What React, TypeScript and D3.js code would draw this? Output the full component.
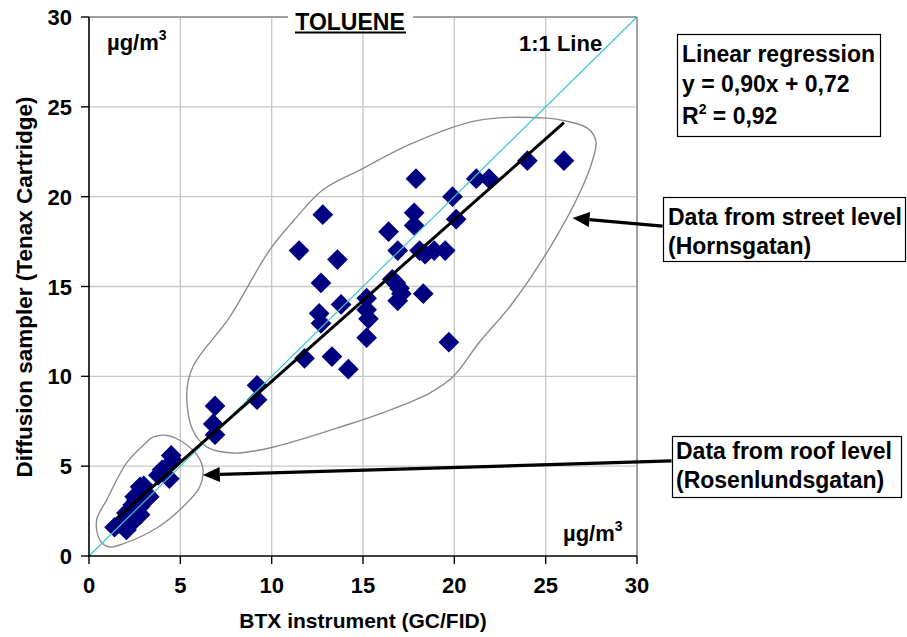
import React from "react";
import * as d3 from "d3";

// BTX instrument (x) vs diffusion sampler (y), toluene, µg/m³
const streetLevel: [number, number][] = [
  [26.0, 22.0], [24.0, 22.0], [21.9, 21.0], [21.2, 21.0], [19.9, 20.0], [20.1, 18.75],
  [17.9, 21.0], [17.8, 19.1], [17.8, 18.4], [16.4, 18.05], [12.8, 19.0], [11.5, 17.0],
  [13.6, 16.5], [16.9, 17.0], [18.1, 17.0], [18.4, 16.8], [18.9, 17.0], [19.5, 17.0],
  [18.3, 14.6], [12.7, 15.2], [13.8, 14.0], [12.6, 13.5], [12.7, 12.95], [15.2, 14.35],
  [15.2, 13.7], [15.3, 13.2], [15.2, 12.15], [16.6, 15.4], [16.8, 15.2], [17.0, 14.9],
  [17.1, 14.6], [16.9, 14.2], [13.3, 11.1], [11.8, 11.0], [14.2, 10.4], [19.7, 11.9],
  [9.2, 9.5], [9.2, 8.7], [6.9, 8.35], [6.8, 7.35], [6.9, 6.75],
];

const roofLevel: [number, number][] = [
  [4.5, 5.6], [4.6, 5.3], [4.0, 4.8], [3.8, 4.5], [4.4, 4.3], [3.0, 3.9], [2.8, 3.85],
  [3.1, 3.5], [2.5, 3.3], [3.3, 3.3], [2.6, 3.1], [2.4, 2.85], [2.8, 2.75], [2.05, 2.4],
  [2.8, 2.3], [2.4, 1.9], [1.7, 1.8], [1.4, 1.6], [2.05, 1.45],
];

// Linear regression y = 0,90x + 0,72 (R² = 0,92)
const slope = 0.9;
const intercept = 0.72;
const regressionRange: [number, number] = [1.5, 26];

const xTicks = [0, 5, 10, 15, 20, 25, 30];
const yTicks = [0, 5, 10, 15, 20, 25, 30];

// Hand-drawn outlines around the two groups, in data units
const streetOutline: [number, number][] = [
  [5.35, 9.0], [5.68, 7.01], [6.44, 6.07], [7.87, 5.73], [9.89, 6.01], [14.1, 7.29],
  [16.62, 8.18], [18.65, 9.07], [19.91, 9.96], [21.38, 11.91], [23.19, 14.08],
  [25.38, 17.42], [26.86, 20.2], [27.57, 22.04], [27.75, 23.1], [27.3, 23.8],
  [26.15, 24.2], [25.05, 24.37], [21.38, 24.26], [17.72, 22.98], [14.82, 21.48],
  [12.79, 20.37], [11.37, 18.86], [9.89, 17.03], [7.7, 13.3], [5.68, 10.52],
];

const roofOutline: [number, number][] = [
  [3.5, 6.62], [4.42, 6.68], [5.68, 5.9], [6.22, 4.95], [6.06, 3.84], [4.96, 2.56],
  [3.71, 1.56], [1.85, 0.67], [1.13, 0.5], [0.59, 0.89], [0.42, 2.0], [0.97, 3.12],
  [2.06, 5.18], [3.16, 6.34],
];

// Arrows from the labels to the groups: [start, tip] in data units
const streetArrow: [number, number][] = [[31.4, 18.36], [26.47, 18.81]];
const roofArrow: [number, number][] = [[31.89, 5.29], [6.23, 4.51]];

const FONT = "'Liberation Sans', Arial, sans-serif";

export default function App() {
  const width = 907;
  const height = 637;
  const x = d3.scaleLinear().domain([0, 30]).range([89, 637]);
  const y = d3.scaleLinear().domain([0, 30]).range([556, 17]);

  const diamond = d3.symbol().type(d3.symbolSquare).size(215)() as string;
  const outline = d3
    .line<[number, number]>()
    .x((d) => x(d[0]))
    .y((d) => y(d[1]))
    .curve(d3.curveCatmullRomClosed.alpha(0.5));

  const arrow = (pts: [number, number][]) => {
    const [s, t] = pts;
    const x1 = x(s[0]), y1 = y(s[1]), x2 = x(t[0]), y2 = y(t[1]);
    const ang = Math.atan2(y2 - y1, x2 - x1);
    const len = 17, hw = 7.5;
    const bx = x2 - len * Math.cos(ang), by = y2 - len * Math.sin(ang);
    const px = -Math.sin(ang) * hw, py = Math.cos(ang) * hw;
    return (
      <g>
        <line x1={x1} y1={y1} x2={bx} y2={by} stroke="#000" strokeWidth={3.2} />
        <path d={`M${x2},${y2}L${bx + px},${by + py}L${bx - px},${by - py}Z`} fill="#000" />
      </g>
    );
  };

  const textStyle = { fontFamily: FONT, fontWeight: 700, fill: "#000" } as const;

  return (
    <div style={{ position: "absolute", left: 0, top: 0 }}>
      <svg width={width} height={height} style={{ display: "block", background: "#fff" }}>
        <rect width={width} height={height} fill="#fff" />
        {/* grid */}
        {xTicks.slice(1).map((t) => (
          <line key={"gx" + t} x1={x(t)} x2={x(t)} y1={y(0)} y2={y(30)} stroke="#c8c8c8" strokeWidth={1.4} />
        ))}
        {yTicks.slice(1).map((t) => (
          <line key={"gy" + t} x1={x(0)} x2={x(30)} y1={y(t)} y2={y(t)} stroke="#c8c8c8" strokeWidth={1.4} />
        ))}
        {/* top and right border */}
        <line x1={x(0)} x2={x(30)} y1={y(30)} y2={y(30)} stroke="#8c8c8c" strokeWidth={1.4} />
        <line x1={x(30)} x2={x(30)} y1={y(30)} y2={y(0)} stroke="#8c8c8c" strokeWidth={1.4} />

        {/* outlines */}
        <path d={outline(streetOutline) ?? ""} fill="none" stroke="#8c8c8c" strokeWidth={1.4} />
        <path d={outline(roofOutline) ?? ""} fill="none" stroke="#8c8c8c" strokeWidth={1.4} />

        {/* data points */}
        {[...streetLevel, ...roofLevel].map((d, i) => (
          <path
            key={"p" + i}
            d={diamond}
            transform={`translate(${x(d[0])},${y(d[1])}) rotate(45)`}
            fill="#000080"
          />
        ))}

        {/* 1:1 line */}
        <line x1={x(0)} y1={y(0)} x2={x(30)} y2={y(30)} stroke="#3cc8c8" strokeWidth={1.2} />
        {/* regression line */}
        <line
          x1={x(regressionRange[0])}
          y1={y(slope * regressionRange[0] + intercept)}
          x2={x(regressionRange[1])}
          y2={y(slope * regressionRange[1] + intercept)}
          stroke="#000"
          strokeWidth={3}
        />

        {/* axes */}
        <line x1={x(0)} x2={x(0)} y1={y(0) + 1} y2={y(30)} stroke="#000" strokeWidth={1.6} />
        <line x1={x(0) - 1} x2={x(30)} y1={y(0)} y2={y(0)} stroke="#000" strokeWidth={1.6} />
        {xTicks.map((t) => (
          <g key={"xt" + t}>
            <line x1={x(t)} x2={x(t)} y1={y(0)} y2={y(0) + 8} stroke="#000" strokeWidth={1.4} />
            <text x={x(t)} y={y(0) + 37} textAnchor="middle" fontSize={22} style={textStyle}>
              {t}
            </text>
          </g>
        ))}
        {yTicks.map((t) => (
          <g key={"yt" + t}>
            <line x1={x(0) - 8} x2={x(0)} y1={y(t)} y2={y(t)} stroke="#000" strokeWidth={1.4} />
            <text x={x(0) - 17} y={y(t) + 8} textAnchor="end" fontSize={22} style={textStyle}>
              {t}
            </text>
          </g>
        ))}

        {/* axis titles */}
        <text x={363} y={628} textAnchor="middle" fontSize={21} style={textStyle}>
          BTX instrument (GC/FID)
        </text>
        <text
          transform={`translate(32,${287}) rotate(-90)`}
          textAnchor="middle"
          fontSize={22.5}
          style={textStyle}
        >
          Diffusion sampler (Tenax Cartridge)
        </text>

        {/* title */}
        <rect x={288} y={8} width={125} height={20} fill="#fff" />
        <text x={350} y={30} textAnchor="middle" fontSize={23} style={textStyle}>
          TOLUENE
        </text>
        <line x1={295} x2={406} y1={32.5} y2={32.5} stroke="#000" strokeWidth={2} />

        {/* units and 1:1 label */}
        <text x={107} y={50} fontSize={22} style={textStyle}>
          µg/m<tspan dy={-10} fontSize={14}>3</tspan>
        </text>
        <text x={519} y={51} fontSize={22} style={textStyle}>
          1:1 Line
        </text>
        <text x={563} y={541} fontSize={22} style={textStyle}>
          µg/m<tspan dy={-10} fontSize={14}>3</tspan>
        </text>

        {/* regression box */}
        <rect x={677.5} y={34.5} width={203} height={102} fill="#fff" stroke="#000" strokeWidth={1.2} />
        <text x={682} y={62} fontSize={23} style={textStyle}>Linear regression</text>
        <text x={682} y={92} fontSize={23} style={textStyle}>y = 0,90x + 0,72</text>
        <text x={682} y={124} fontSize={23} style={textStyle}>
          R<tspan dy={-10} fontSize={14}>2</tspan>
          <tspan dy={10}> = 0,92</tspan>
        </text>

        {/* arrows */}
        {arrow(streetArrow)}
        {arrow(roofArrow)}

        {/* group labels */}
        <rect x={663.5} y={197.5} width={242} height={64} fill="#fff" stroke="#000" strokeWidth={1.2} />
        <text x={668} y={225} fontSize={23} style={textStyle}>Data from street level</text>
        <text x={668} y={254} fontSize={23} style={textStyle}>(Hornsgatan)</text>

        <rect x={672.5} y={436.5} width={229} height={61} fill="#fff" stroke="#000" strokeWidth={1.2} />
        <text x={676} y={459} fontSize={23} style={textStyle}>Data from roof level</text>
        <text x={676} y={488} fontSize={23} style={textStyle}>(Rosenlundsgatan)</text>
      </svg>
    </div>
  );
}
